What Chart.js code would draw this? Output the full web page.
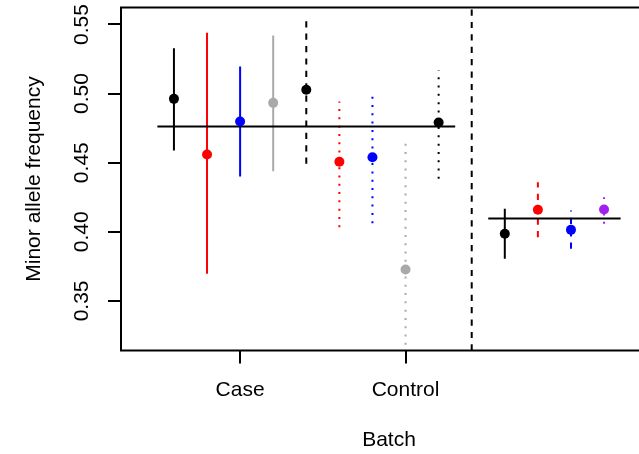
<!DOCTYPE html>
<html>
<head>
<meta charset="utf-8">
<script src="https://cdn.jsdelivr.net/npm/chart.js@4/dist/chart.umd.min.js"></script>
<style>
html,body{margin:0;padding:0;background:#fff;overflow:hidden;}
#wrap{width:662px;height:454px;}
</style>
</head>
<body>
<div id="wrap"><canvas id="c" width="662" height="454"></canvas></div>
<script>
// ---- data ----
const xPositions = [1, 2, 3, 4, 5, 6, 7, 8, 9, 11, 12, 13, 14];
const estimates  = [0.4962, 0.4559, 0.4798, 0.4933, 0.5028, 0.4507, 0.4540, 0.3727, 0.4791, 0.3986, 0.4159, 0.4014, 0.4161];
const lowerCI    = [0.4588, 0.3696, 0.4400, 0.4438, 0.4492, 0.4033, 0.4062, 0.3182, 0.4383, 0.3805, 0.3961, 0.3877, 0.4058];
const upperCI    = [0.5329, 0.5440, 0.5196, 0.5420, 0.5565, 0.4943, 0.5022, 0.4685, 0.5167, 0.4166, 0.4359, 0.4154, 0.4250];
const groupMeans = [0.4762, 0.4096];
const groupStart = [0.5, 10.5];
const groupEnd   = [9.5, 14.5];
const separatorX = [10];
const xTickPositions = [3, 8];
const xTickLabels = ['Case', 'Control'];
const yTickValues = [0.35, 0.40, 0.45, 0.50, 0.55];
const yTickLabels = ['0.35', '0.40', '0.45', '0.50', '0.55'];
const xTitle = 'Batch';
const yTitle = 'Minor allele frequency';

// ---- styles ----
const pointColors = ['#000000','#FF0000','#0000FF','#A9A9A9','#000000','#FF0000','#0000FF','#A9A9A9','#000000','#000000','#FF0000','#0000FF','#A020F0'];
const DASH = [6.2, 6.2], DOT = [2, 6.3], SOLID = [];
const barDashes = [SOLID,SOLID,SOLID,SOLID,DASH,DOT,DOT,DOT,DOT,SOLID,DASH,DASH,DOT];
const FONT = '"Liberation Sans", Arial, Helvetica, sans-serif';
const FS = 21;

const datasets = [];
xPositions.forEach((x, i) => {
  datasets.push({
    type: 'line',
    data: [{x: x, y: lowerCI[i]}, {x: x, y: upperCI[i]}],
    borderColor: pointColors[i],
    borderWidth: 2,
    borderDash: barDashes[i],
    borderCapStyle: 'butt',
    pointRadius: 0,
    showLine: true,
    order: 3
  });
});
groupMeans.forEach((m, i) => {
  datasets.push({
    type: 'line',
    data: [{x: groupStart[i], y: m}, {x: groupEnd[i], y: m}],
    borderColor: '#000',
    borderWidth: 2,
    pointRadius: 0,
    showLine: true,
    order: 2
  });
});
const yMin = 0.3141, yMax = 0.5623;
separatorX.forEach(sx => {
  datasets.push({
    type: 'line',
    data: [{x: sx, y: yMin}, {x: sx, y: yMax}],
    borderColor: '#000',
    borderWidth: 2,
    borderDash: DASH,
    borderCapStyle: 'butt',
    pointRadius: 0,
    showLine: true,
    order: 2
  });
});
datasets.push({
  type: 'scatter',
  data: xPositions.map((x, i) => ({x: x, y: estimates[i]})),
  pointRadius: 5,
  pointBorderWidth: 0,
  pointBackgroundColor: pointColors,
  pointBorderColor: pointColors,
  order: 0
});

const rPlot = {
  id: 'rPlot',
  afterDraw(chart) {
    const ctx = chart.ctx, a = chart.chartArea, ys = chart.scales.y;
    ctx.save();
    ctx.strokeStyle = '#000';
    ctx.lineWidth = 2;
    ctx.strokeRect(a.left, a.top, a.right - a.left, a.bottom - a.top);
    ctx.fillStyle = '#000';
    ctx.font = FS + 'px ' + FONT;
    ctx.textAlign = 'center';
    ctx.textBaseline = 'middle';
    yTickValues.forEach((v, i) => {
      const py = ys.getPixelForValue(v);
      ctx.save();
      ctx.translate(a.left - 38.5, py);
      ctx.rotate(-Math.PI / 2);
      ctx.fillText(yTickLabels[i], 0, 0);
      ctx.restore();
    });
    ctx.restore();
  }
};

new Chart(document.getElementById('c'), {
  type: 'scatter',
  data: { datasets: datasets },
  options: {
    responsive: false,
    animation: false,
    events: [],
    layout: { padding: { top: 7.5, left: 0, right: 0, bottom: 0 } },
    plugins: { legend: { display: false }, tooltip: { enabled: false } },
    scales: {
      x: {
        type: 'linear',
        position: 'bottom',
        min: -0.6, max: 15.6,
        afterBuildTicks: s => { s.ticks = xTickPositions.map(v => ({value: v})); },
        afterFit: s => { s.height = 103.5; },
        grid: { drawOnChartArea: false, drawTicks: true, tickLength: 13, color: '#000', lineWidth: 2 },
        border: { display: false },
        ticks: {
          padding: 14, maxRotation: 0, autoSkip: false, color: '#000',
          font: { family: FONT, size: FS },
          callback: (v, i) => xTickLabels[i]
        },
        title: { display: true, text: xTitle, color: '#000', font: { family: FONT, size: FS }, padding: { top: 0, bottom: 1 } }
      },
      y: {
        type: 'linear',
        position: 'left',
        min: yMin, max: yMax,
        afterBuildTicks: s => { s.ticks = yTickValues.map(v => ({value: v})); },
        afterFit: s => { s.width = 121; },
        grid: { drawOnChartArea: false, drawTicks: true, tickLength: 13, color: '#000', lineWidth: 2 },
        border: { display: false },
        ticks: { display: false },
        title: { display: true, text: yTitle, color: '#000', font: { family: FONT, size: FS }, padding: { top: 21.5, bottom: 0 } }
      }
    }
  },
  plugins: [rPlot]
});
</script>
</body>
</html>
